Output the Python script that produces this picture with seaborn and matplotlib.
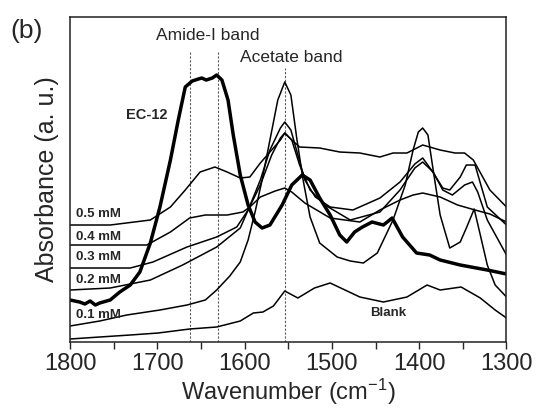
"""FTIR spectra of EC-12 and the concentration series (panel b)."""

import matplotlib
matplotlib.use("Agg")
import matplotlib.pyplot as plt
import seaborn as sns
from matplotlib.ticker import MultipleLocator

sns.set_style("ticks")
plt.rcParams["font.family"] = ["Liberation Sans", "DejaVu Sans"]
plt.rcParams["mathtext.default"] = "regular"

# --- data (wavenumber in cm-1, absorbance in a. u.) ---
blank_wn = [1800, 1766, 1731, 1699, 1663, 1632, 1605, 1590, 1579, 1567, 1554, 1539,
            1520, 1502, 1485, 1468, 1441, 1414, 1391, 1376, 1352, 1330, 1313, 1300]
blank_abs = [0.03, 0.05, 0.07, 0.09, 0.13, 0.15, 0.21, 0.29, 0.30, 0.36, 0.51, 0.44,
             0.54, 0.59, 0.52, 0.45, 0.40, 0.45, 0.57, 0.52, 0.55, 0.44, 0.32, 0.24]

c01_wn = [1800, 1766, 1735, 1697, 1666, 1645, 1632, 1617, 1605, 1596, 1588, 1580,
          1571, 1562, 1554, 1547, 1540, 1533, 1525, 1514, 1494, 1479, 1464, 1448,
          1430, 1416, 1407, 1401, 1396, 1390, 1384, 1376, 1365, 1353, 1346, 1337,
          1330, 1322, 1313, 1300]
c01_abs = [0.16, 0.21, 0.27, 0.32, 0.37, 0.42, 0.52, 0.66, 0.80, 1.02, 1.30, 1.62,
           2.02, 2.42, 2.60, 2.47, 2.02, 1.62, 1.25, 0.99, 0.85, 0.81, 0.79, 0.89,
           1.22, 1.57, 1.92, 2.10, 2.14, 2.07, 1.72, 1.27, 0.94, 1.00, 1.14, 1.33,
           1.07, 0.77, 0.57, 0.45]

c02_wn = [1800, 1754, 1708, 1671, 1632, 1605, 1595, 1582, 1571, 1559, 1554, 1547,
          1539, 1531, 1519, 1502, 1476, 1445, 1422, 1405, 1396, 1386, 1373, 1365,
          1353, 1346, 1336, 1322, 1300]
c02_abs = [0.52, 0.54, 0.62, 0.77, 0.95, 1.14, 1.34, 1.62, 1.92, 2.14, 2.20, 2.12,
           1.87, 1.62, 1.45, 1.35, 1.32, 1.44, 1.60, 1.78, 1.84, 1.72, 1.54, 1.52,
           1.65, 1.77, 1.77, 1.35, 1.17]

c03_wn = [1800, 1731, 1705, 1666, 1632, 1609, 1596, 1582, 1569, 1559, 1554, 1546,
          1537, 1525, 1508, 1479, 1445, 1422, 1405, 1396, 1384, 1373, 1362, 1348,
          1339, 1333, 1322, 1300]
c03_abs = [0.74, 0.74, 0.80, 0.95, 1.05, 1.15, 1.32, 1.57, 1.87, 2.04, 2.09, 2.02,
           1.77, 1.52, 1.37, 1.22, 1.30, 1.52, 1.74, 1.80, 1.70, 1.52, 1.47, 1.57,
           1.60, 1.50, 1.22, 0.87]

c04_wn = [1800, 1712, 1685, 1663, 1645, 1620, 1602, 1594, 1582, 1565, 1554, 1546,
          1531, 1502, 1468, 1445, 1422, 1407, 1396, 1376, 1356, 1336, 1319, 1300]
c04_abs = [0.97, 0.97, 1.10, 1.24, 1.27, 1.27, 1.30, 1.35, 1.45, 1.51, 1.54, 1.50,
           1.39, 1.24, 1.20, 1.32, 1.42, 1.47, 1.49, 1.45, 1.37, 1.32, 1.28, 1.20]

c05_wn = [1800, 1754, 1708, 1685, 1668, 1651, 1634, 1620, 1605, 1594, 1582, 1571,
          1559, 1554, 1546, 1537, 1514, 1491, 1468, 1445, 1430, 1414, 1396, 1376,
          1359, 1348, 1338, 1319, 1300]
c05_abs = [1.17, 1.17, 1.22, 1.35, 1.52, 1.70, 1.75, 1.70, 1.64, 1.65, 1.79, 1.90,
           2.02, 2.09, 2.02, 1.95, 1.94, 1.90, 1.89, 1.85, 1.89, 1.89, 1.97, 1.92,
           1.89, 1.89, 1.82, 1.52, 1.35]

ec12_wn = [1800, 1789, 1783, 1777, 1771, 1766, 1754, 1743, 1731, 1720, 1708, 1697,
           1685, 1676, 1668, 1660, 1653, 1649, 1644, 1637, 1632, 1626, 1619, 1613,
           1605, 1596, 1588, 1580, 1571, 1557, 1546, 1534, 1525, 1514, 1502, 1491,
           1483, 1474, 1465, 1454, 1441, 1431, 1419, 1403, 1388, 1376, 1353, 1322,
           1300]
ec12_abs = [0.42, 0.40, 0.38, 0.41, 0.37, 0.39, 0.42, 0.50, 0.57, 0.70, 0.99, 1.35,
            1.82, 2.22, 2.55, 2.61, 2.63, 2.64, 2.62, 2.64, 2.67, 2.62, 2.42, 2.07,
            1.67, 1.37, 1.20, 1.14, 1.17, 1.37, 1.57, 1.67, 1.62, 1.44, 1.27, 1.07,
            1.00, 1.10, 1.15, 1.20, 1.17, 1.24, 1.05, 0.89, 0.87, 0.82, 0.77, 0.72,
            0.68]

# band markers (dashed lines)
band_wn = [1663, 1631, 1554]
band_top = [2.90, 2.90, 2.74]

# curve labels: text, absorbance position
curve_labels = ["0.5 mM", "0.4 mM", "0.3 mM", "0.2 mM", "0.1 mM"]
curve_label_abs = [1.28, 1.05, 0.85, 0.625, 0.27]

fig = plt.figure(figsize=(5.37, 4.09), dpi=100)
ax = fig.add_axes([0.1304, 0.1638, 0.8128, 0.7946])

ax.vlines(band_wn, 0, band_top, colors="0.35", linestyles=(0, (2.0, 1.5)), linewidth=0.8)

thin = [(blank_wn, blank_abs), (c01_wn, c01_abs), (c02_wn, c02_abs),
        (c03_wn, c03_abs), (c04_wn, c04_abs), (c05_wn, c05_abs)]
for wn, ab in thin:
    sns.lineplot(x=wn, y=ab, ax=ax, color="black", linewidth=1.1, estimator=None)
sns.lineplot(x=ec12_wn, y=ec12_abs, ax=ax, color="black", linewidth=2.5, estimator=None)

ax.set_xlim(1800, 1300)
ax.set_ylim(0, 3.25)
ax.set_yticks([])
ax.xaxis.set_major_locator(MultipleLocator(100))
ax.xaxis.set_minor_locator(MultipleLocator(50))
ax.tick_params(axis="x", which="both", direction="out", length=5, width=1,
               labelsize=17, pad=3, top=False)
for s in ax.spines.values():
    s.set_linewidth(1.1)
    s.set_color("#222222")

ax.set_xlabel("Wavenumber (cm$^{-1}$)", fontsize=17, labelpad=1)
ax.set_ylabel("Absorbance (a. u.)", fontsize=18, labelpad=8)

# annotations
ax.text(1642.5, 3.07, "Amide-I band", fontsize=12.5, ha="center", va="center")
ax.text(1547, 2.85, "Acetate band", fontsize=12.5, ha="center", va="center")
ax.text(1712, 2.27, "EC-12", fontsize=10.5, fontweight="bold", ha="center", va="center")
for txt, ab in zip(curve_labels, curve_label_abs):
    ax.text(1793, ab, txt, fontsize=9.5, fontweight="bold", ha="left", va="center")
ax.text(1435, 0.29, "Blank", fontsize=9.5, fontweight="bold", ha="center", va="center")

fig.text(0.02, 0.925, "(b)", fontsize=19, ha="left", va="center")

fig.savefig("out.png", dpi=100)
